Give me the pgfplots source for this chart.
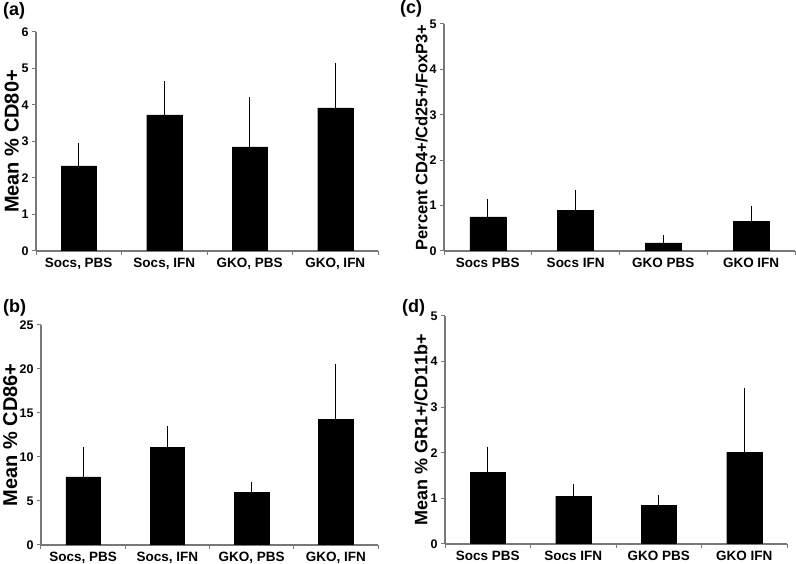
\documentclass[border=0pt]{standalone}
\usepackage{pgfplots}
\pgfplotsset{compat=1.18}
\usepackage{fontspec}
\setmainfont{Liberation Sans}
\definecolor{axgray}{RGB}{120,120,120}
\pgfplotsset{
  panel/.style={
    scale only axis,
    axis x line*=bottom, axis y line*=left,
    axis line style={draw=axgray, line width=1.2pt},
    xmin=-0.5, xmax=3.5, ymin=0,
    xtick={-0.5,0.5,1.5,2.5,3.5},
    xticklabels={},
    major tick length=4pt,
    tick align=outside,
    tick style={draw=axgray, line width=1pt},
    /pgf/number format/assume math mode=true,
    ticklabel style={font=\bfseries\fontsize{13.5}{14}\selectfont},
    yticklabel style={font=\bfseries\fontsize{12.5}{13}\selectfont},
    extra x ticks={0,1,2,3},
    extra x tick style={major tick length=0pt, xticklabel style={inner sep=0pt, yshift=-7pt}},
    ylabel style={font=\bfseries\fontsize{20}{20}\selectfont, inner sep=0pt},
    ybar, bar width=0.41,
  },
  bars/.style={fill=black, draw=black,
    error bars/.cd, y dir=plus, y explicit,
    error bar style={black, line width=1pt},
    error mark options={black, line width=1pt, mark size=1.6pt}},
}
\begin{document}
\begin{tikzpicture}
\useasboundingbox (0pt,0pt) rectangle (796pt,564pt);
% (a)
\begin{axis}[panel, at={(36pt,313pt)}, anchor=south west, width=342pt, height=219pt,
  ymax=6, ytick={0,1,...,6},
  extra x tick labels={{Socs, PBS},{Socs, IFN},{GKO, PBS},{GKO, IFN}},
  ylabel={Mean \% CD80+},
  ylabel style={at={(axis description cs:0,0.5)}, anchor=south, yshift=17pt}]
\addplot[bars] table[x=x,y=y,y error=e]{
x y e
0 2.33 0.59
1 3.73 0.87
2 2.85 1.32
3 3.92 1.19
};
\end{axis}
% (b)
\begin{axis}[panel, at={(41pt,19pt)}, anchor=south west, width=337pt, height=220pt,
  ymax=25, ytick={0,5,...,25},
  extra x tick labels={{Socs, PBS},{Socs, IFN},{GKO, PBS},{GKO, IFN}},
  ylabel={Mean \% CD86+},
  ylabel style={at={(axis description cs:0,0.5)}, anchor=south, yshift=23.5pt}]
\addplot[bars] table[x=x,y=y,y error=e]{
x y e
0 7.75 3.23
1 11.10 2.23
2 5.95 1.05
3 14.28 6.06
};
\end{axis}
% (c)
\begin{axis}[panel, at={(444pt,313pt)}, anchor=south west, width=351pt, height=227pt,
  ymax=5, ytick={0,1,...,5},
  extra x tick labels={{Socs PBS},{Socs IFN},{GKO PBS},{GKO IFN}},
  ylabel={Percent CD4+/Cd25+/FoxP3+},
  ylabel style={at={(axis description cs:0,0.5)}, anchor=south, yshift=16pt, font=\bfseries\fontsize{16.5}{17}\selectfont}]
\addplot[bars] table[x=x,y=y,y error=e]{
x y e
0 0.75 0.35
1 0.90 0.40
2 0.18 0.13
3 0.65 0.30
};
\end{axis}
% (d)
\begin{axis}[panel, at={(445pt,20pt)}, anchor=south west, width=342pt, height=228pt,
  ymax=5, ytick={0,1,...,5},
  extra x tick labels={{Socs PBS},{Socs IFN},{GKO PBS},{GKO IFN}},
  ylabel={Mean \% GR1+/CD11b+},
  ylabel style={at={(axis description cs:0,0.5)}, anchor=south, yshift=17pt, font=\bfseries\fontsize{18}{18}\selectfont}]
\addplot[bars] table[x=x,y=y,y error=e]{
x y e
0 1.57 0.53
1 1.05 0.23
2 0.85 0.18
3 2.01 1.38
};
\end{axis}
\node[anchor=north west, inner sep=0pt, font=\bfseries\fontsize{18}{18}\selectfont] at (3pt,562pt) {(a)};
\node[anchor=north west, inner sep=0pt, font=\bfseries\fontsize{18}{18}\selectfont] at (3pt,265pt) {(b)};
\node[anchor=north west, inner sep=0pt, font=\bfseries\fontsize{18}{18}\selectfont] at (400pt,564pt) {(c)};
\node[anchor=north west, inner sep=0pt, font=\bfseries\fontsize{18}{18}\selectfont] at (402pt,265pt) {(d)};
\end{tikzpicture}
\end{document}
